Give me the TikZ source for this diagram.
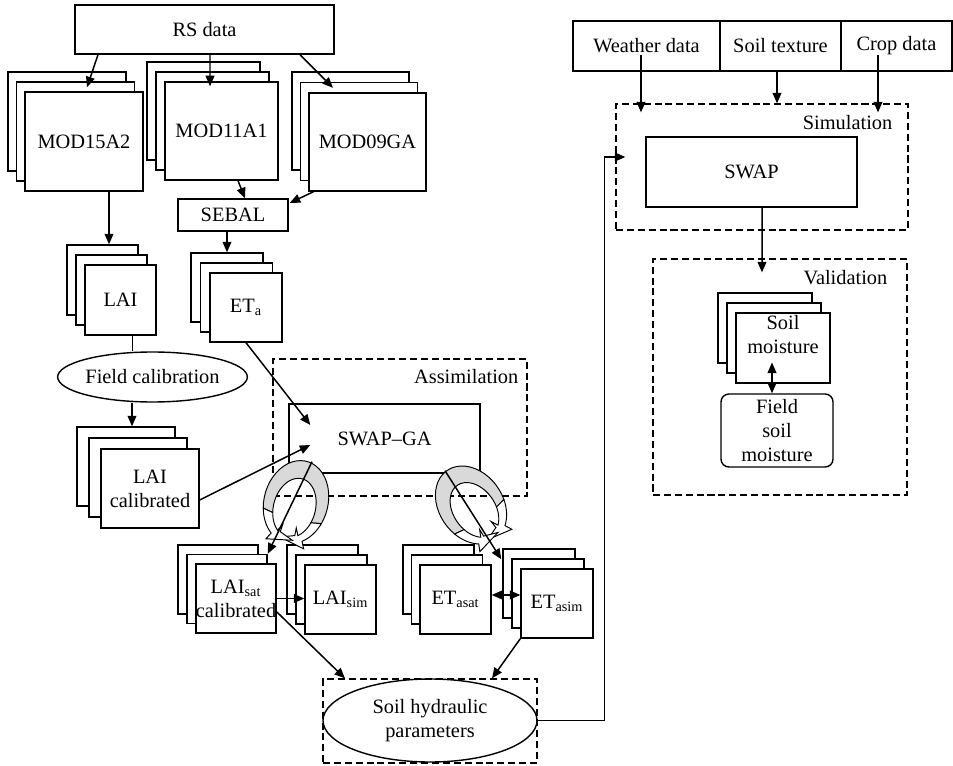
\documentclass[tikz,border=0pt]{standalone}
\usepackage{fontspec}
\setmainfont{Liberation Serif}
\usetikzlibrary{arrows.meta,shapes.geometric,calc}
\newcommand\cardstack[8]{%
  \node[card, sz={(#4)-(#2)}{(#5)-(#3)}] (#1-b) at ({((#2)+(#4))/2},{((#3)+(#5))/2}) {};
  \node[card, sz={(#4)-(#2)}{(#5)-(#3)}] (#1-m) at ({((#2)+(#4))/2+(#6)},{((#3)+(#5))/2+(#7)}) {};
  \node[card, sz={(#4)-(#2)}{(#5)-(#3)}] (#1) at ({((#2)+(#4))/2+2*(#6)},{((#3)+(#5))/2+2*(#7)}) {#8};
}
\newcommand\swirl[3]{%
  \begin{scope}[shift={(#1,#2)},rotate=#3]
    \filldraw[fill=gray!30, line width=0.55pt]
      plot[domain=200:-20,samples=30] ({32*cos(\x)},{-42*sin(\x)})
      -- plot[domain=-20:200,samples=30] ({21*cos(\x)},{-30*sin(\x)+6}) -- cycle;
    \filldraw[fill=white, line width=0.55pt]
      plot[domain=-20:-60,samples=12] ({32*cos(\x)},{-42*sin(\x)})
      -- ({39*cos(-60)},{-50*sin(-60)})
      -- ({26*cos(-104)},{-36*sin(-104)+3})
      -- ({20*cos(-68)},{-31*sin(-68)+4})
      -- ({14*cos(-60)},{-22*sin(-60)+6})
      -- plot[domain=-60:-20,samples=12] ({21*cos(\x)},{-30*sin(\x)+6}) -- cycle;
    \filldraw[fill=white, line width=0.55pt]
      plot[domain=200:240,samples=12] ({32*cos(\x)},{-42*sin(\x)})
      -- ({39*cos(240)},{-50*sin(240)})
      -- ({26*cos(284)},{-36*sin(284)+3})
      -- ({20*cos(248)},{-31*sin(248)+4})
      -- ({14*cos(240)},{-22*sin(240)+6})
      -- plot[domain=240:200,samples=12] ({21*cos(\x)},{-30*sin(\x)+6}) -- cycle;
  \end{scope}}
\begin{document}
\begin{tikzpicture}[x=0.02cm,y=-0.02cm,
  font=\fontsize{11.6}{13.6}\selectfont, line width=0.8pt,
  sz/.style 2 args={minimum width={(#1)*0.02cm}, minimum height={(#2)*0.02cm}},
  card/.style={draw, fill=white, inner sep=0pt, align=center},
  dbox/.style={draw, line width=0.7pt, dash pattern=on 4pt off 2.2pt, inner sep=0pt},
  arr/.style={-{Triangle[length=6pt,width=5pt]}, line width=0.85pt},
  darr/.style={{Triangle[length=6pt,width=5pt]}-{Triangle[length=6pt,width=5pt]}, line width=0.85pt}]
\useasboundingbox (0,0) rectangle (953,766);

% left column
\node[card, sz={259}{49}] (rs) at (204.5,29.5) {RS data};
\cardstack{mod15}{8}{72}{126}{171}{8.5}{10}{MOD15A2}
\cardstack{mod11}{147}{62}{260}{160}{9}{10}{MOD11A1}
\cardstack{mod09}{292}{72}{409}{170}{8.5}{10.5}{MOD09GA}
\node[card, sz={110}{32}] (sebal) at (233,215) {SEBAL};
\cardstack{lai}{67}{245}{138}{315}{9}{10}{LAI}
\cardstack{eta}{191}{253}{263}{322}{9.5}{10}{ET\textsubscript{a}}
\node[draw, ellipse, fill=white, inner sep=0pt, sz={187}{50}] (fc) at (152.5,377) {Field calibration};
\cardstack{laical}{77}{427}{175}{506}{12}{11}{LAI\\calibrated}
\node[dbox, sz={254}{137}] (assim) at (400,427.5) {};
\node[anchor=east, inner sep=0pt] (assimlbl) at (519,377) {Assimilation};
\node[card, sz={191}{69}] (swapga) at (384.5,438.5) {SWAP--GA};

\cardstack{laisat}{178}{545}{258}{614}{9}{9.5}{LAI\textsubscript{sat}\\calibrated}
\cardstack{laisim}{287}{545}{358}{614}{9}{10}{LAI\textsubscript{sim}}
\cardstack{etasat}{403}{545}{474}{614}{8.5}{10}{ET\textsubscript{asat}}
\cardstack{etasim}{503}{549}{575}{618}{9}{10}{ET\textsubscript{asim}}

\node[dbox, sz={214}{84}] (shbox) at (430,721) {};
\node[draw, ellipse, inner sep=0pt, align=center, sz={214}{83}] (soil) at (430,720.5) {Soil hydraulic\\parameters};

% right column
\node[card, sz={147}{50}] (weather) at (646.5,46) {Weather data};
\node[card, sz={121}{50}] (soiltex) at (780.5,46) {Soil texture};
\node[card, sz={111}{50}] (crop) at (896.5,46) {Crop data};
\node[dbox, sz={292}{126}] (sim) at (762,167) {};
\node[anchor=east, inner sep=0pt] (simlbl) at (893,123) {Simulation};
\node[card, sz={211}{70}] (swap) at (751.5,172) {SWAP};
\node[dbox, sz={254}{236}] (val) at (780,377) {};
\node[anchor=east, inner sep=0pt] (vallbl) at (888,278) {Validation};
\cardstack{soilm}{718}{293}{812}{363}{9}{10}{Soil\\moisture\\[2pt]}
\node[card, rounded corners=4.5pt, sz={112}{73}] (fsm) at (777,430.5) {Field\\soil\\moisture};

% connectors
\draw[arr] ([shift={(-106.5,0)}]rs.south) -- ([shift={(11.5,6)}]mod15-m.north);
\draw[arr] ([shift={(5.5,0)}]rs.south) -- ([shift={(-2.5,15)}]mod11-m.north);
\draw[arr] ([shift={(95.5,0)}]rs.south) -- ([shift={(-26,6)}]mod09-m.north);
\draw[arr] ([shift={(16.5,0)}]mod11.south) -- ([shift={(12,0)}]sebal.north);
\draw[arr] ([shift={(-54,0)}]mod09.south) -- ([shift={(1,-12)}]sebal.east);
\draw[arr] ([shift={(25,0)}]mod15.south) -- ([shift={(25,0)}]mod15.south |- lai-b.north);
\draw[arr] (sebal.south -| eta-b.north) -- (eta-b.north);
\draw ([shift={(12,0)}]lai.south) -- ([shift={(12,0)}]lai.south |- fc.north);
\draw[arr] ([shift={(6,0)}]laical-b.north |- fc.south) -- ([shift={(6,0)}]laical-b.north);
\draw[arr] ([shift={(0,11.5)}]laical.east) -- ([shift={(22,6.5)}]swapga.west);
\draw[arr] (eta.south) -- ([shift={(22,-13.5)}]swapga.west);

\swirl{296}{502}{-15}
\swirl{471}{505}{35}

\draw[arr] ([shift={(-72.5,-12)}]swapga.south) -- (laisat-m.north east);
\draw[arr] ([shift={(60.5,-3)}]swapga.south) -- ([shift={(-1,11)}]etasim-b.north west);
\draw[arr] (laisat.east) -- (laisat.east -| laisim.west);
\draw[darr] ([shift={(0,-4.5)}]etasat.east) -- ([shift={(0,-4.5)}]etasat.east -| etasim.west);
\draw[arr] ([shift={(0,13.5)}]laisat.east) -- ([shift={(-85,0)}]shbox.north);
\draw[arr] (etasim.south west) -- ([shift={(62,0)}]shbox.north);
\draw[arr] (soil.east) -- ++(67,0) |- ([shift={(10,-10)}]sim.west);

\draw[arr] ([shift={(-5.5,9)}]weather.center) -- ([shift={(-5.5,9)}]weather.center |- sim.north);
\draw[arr] ([shift={(-3.5,0)}]soiltex.south) -- ([shift={(-3.5,0)}]soiltex.south |- sim.north);
\draw[arr] ([shift={(-18.5,9)}]crop.center) -- ([shift={(-18.5,9)}]crop.center |- sim.north);
\draw[arr] ([shift={(10.5,0)}]swap.south) -- ([shift={(-18,14)}]val.north);
\draw[darr] ([shift={(-11,14.5)}]soilm.center) -- ([shift={(-5,0)}]fsm.north);
\end{tikzpicture}
\end{document}
